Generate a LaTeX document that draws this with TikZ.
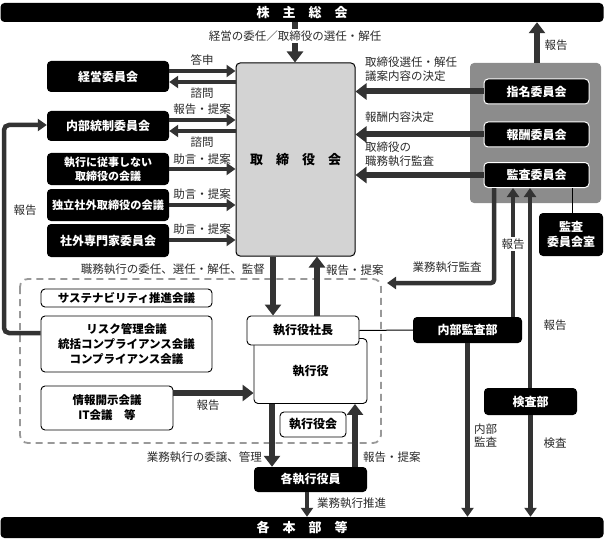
\documentclass[tikz,border=0pt]{standalone}
\usepackage{fontspec}
\setmainfont{Noto Sans CJK JP}
\usetikzlibrary{arrows.meta}
\definecolor{arrc}{HTML}{333333}
\definecolor{boardgray}{HTML}{D3D3D3}
\definecolor{panelgray}{HTML}{8C8C8C}
\definecolor{dashgray}{HTML}{999999}
\definecolor{lblc}{HTML}{2A2A2A}
\begin{document}
\begin{tikzpicture}[x=1pt,y=-1pt,
  blk/.style={fill=black, text=white, rounded corners=4pt, inner sep=0pt, align=center,
    font=\bfseries\fontsize{12}{15}\selectfont},
  wbox/.style={draw=black, line width=0.9pt, fill=white, rounded corners=4pt, inner sep=0pt, align=center,
    font=\bfseries\fontsize{11.5}{15}\selectfont},
  lbl/.style={font=\fontsize{11.5}{14}\selectfont, text=lblc, inner sep=1pt, align=left},
  arr/.style={draw=arrc, line width=4.5pt, -{Triangle[width=12pt,length=9pt]}},
  bigarr/.style={draw=arrc, line width=6pt, -{Triangle[width=16pt,length=11pt]}},
  thinln/.style={draw=black, line width=1pt}
]
\useasboundingbox (0,0) rectangle (604,540);

% dashed executive area
\draw[dashgray, line width=1.8pt, dash pattern=on 7pt off 5pt, rounded corners=8pt] (20,279) rectangle (381,443);

% bars
\node[blk, minimum width=603pt, minimum height=19pt, font=\bfseries\fontsize{13}{15}\selectfont] (top) at (302,12.5) {株　主　総　会};
\node[blk, minimum width=603pt, minimum height=21pt, font=\bfseries\fontsize{13}{15}\selectfont] (bottom) at (302,527.5) {各　本　部　等};

% board
\node[draw=black, line width=1pt, fill=boardgray, rounded corners=4pt, inner sep=0pt,
  minimum width=119pt, minimum height=193pt, font=\bfseries\fontsize{13}{15}\selectfont] (board) at (295.5,159.5) {取　締　役　会};

% left committees
\node[blk, minimum width=122pt, minimum height=31pt] (keiei) at (108,76.5) {経営委員会};
\node[blk, minimum width=122pt, minimum height=30pt] (naibu) at (108,126) {内部統制委員会};
\node[blk, minimum width=122pt, minimum height=32pt, font=\bfseries\fontsize{11}{14}\selectfont] (shikko) at (108,169) {執行に従事しない\\取締役の会議};
\node[blk, minimum width=122pt, minimum height=32pt, font=\bfseries\fontsize{11.2}{14}\selectfont] (dokuritsu) at (108,205) {独立社外取締役の会議};
\node[blk, minimum width=122pt, minimum height=33pt] (shagai) at (108,240.5) {社外専門家委員会};

% right panel
\node[fill=panelgray, rounded corners=4pt, minimum width=131pt, minimum height=140pt, inner sep=0pt] (panel) at (535.5,133) {};
\node[blk, draw=white, line width=1pt, minimum width=105pt, minimum height=25pt] (shimei) at (536.5,91.5) {指名委員会};
\node[blk, draw=white, line width=1pt, minimum width=105pt, minimum height=25pt] (hoshu) at (536.5,134.5) {報酬委員会};
\node[blk, draw=white, line width=1pt, minimum width=105pt, minimum height=25pt] (kansa) at (536.5,175) {監査委員会};
\node[blk, minimum width=64pt, minimum height=43pt] (kansashitsu) at (571,234.5) {監査\\委員会室};
\node[blk, minimum width=109pt, minimum height=26pt] (naibukansa) at (467.5,330) {内部監査部};
\node[blk, minimum width=93pt, minimum height=27pt] (kensa) at (530.5,401.5) {検査部};

% executive area boxes
\node[wbox, minimum width=171pt, minimum height=18pt] (sustain) at (126.5,298) {サステナビリティ推進会議};
\node[wbox, minimum width=171pt, minimum height=56pt] (risk) at (126.5,344) {リスク管理会議\\統括コンプライアンス会議\\コンプライアンス会議};
\node[wbox, minimum width=132pt, minimum height=44pt] (joho) at (107,408) {情報開示会議\\IT会議　等};
\node[wbox, minimum width=113pt, minimum height=65pt, font=\bfseries\fontsize{12}{15}\selectfont] (shikkoyaku) at (310.5,371) {\raisebox{-2pt}{執行役}};
\node[wbox, minimum width=112pt, minimum height=29pt, font=\bfseries\fontsize{12}{15}\selectfont] (president) at (303,330.5) {執行役社長};
\node[wbox, minimum width=66pt, minimum height=25pt, font=\bfseries\fontsize{12}{15}\selectfont] (shikkoyakukai) at (313,424.5) {執行役会};
\node[blk, minimum width=113pt, minimum height=25pt] (kakushikko) at (310.5,479.5) {各執行役員};

% top arrow
\draw[bigarr] (top.south -| 295,0) -- (board.north -| 295,0);
\node[lbl, fill=white, inner sep=2pt] at (295,36) {経営の委任／取締役の選任・解任};

% left committees <-> board
\draw[arr] (keiei.east |- 0,71) -- (board.west |- 0,71);
\node[lbl] at (202,60) {答申};
\draw[arr] (board.west |- 0,82) -- (keiei.east |- 0,82);
\node[lbl] at (202,93) {諮問};
\draw[arr] (naibu.east |- 0,120) -- (board.west |- 0,120);
\node[lbl] at (202,109) {報告・提案};
\draw[arr] (board.west |- 0,131) -- (naibu.east |- 0,131);
\node[lbl] at (202,142) {諮問};
\draw[arr] (shikko.east |- 0,169) -- (board.west |- 0,169);
\node[lbl] at (202,159) {助言・提案};
\draw[arr] (dokuritsu.east |- 0,205) -- (board.west |- 0,205);
\node[lbl] at (202,194) {助言・提案};
\draw[arr] (shagai.east |- 0,240) -- (board.west |- 0,240);
\node[lbl] at (202,229) {助言・提案};

% right committees -> board
\draw[bigarr] (shimei.west) -- (board.east |- shimei.west);
\draw[bigarr] (hoshu.west) -- (board.east |- hoshu.west);
\draw[bigarr] (kansa.west) -- (board.east |- kansa.west);
\node[lbl, anchor=west, font=\fontsize{11.5}{13.5}\selectfont] at (364,69) {取締役選任・解任\\議案内容の決定};
\node[lbl, anchor=west] at (364,117) {報酬内容決定};
\node[lbl, anchor=west, font=\fontsize{11.5}{13.5}\selectfont] at (364,154) {取締役の\\職務執行監査};

% panel -> top
\draw[bigarr] (panel.north -| 537,0) -- (top.south -| 537,0);
\node[lbl] at (556,45) {報告};

% audit committee links
\coordinate (kc) at (494,283);
\draw[arr, rounded corners=3pt] (kansa.south -| 494,0) -- (kc) -- (387,283);
\node[lbl, anchor=south] at (447,274) {業務執行監査};
\draw[arr] (naibukansa.north -| 513,0) -- (kansa.south -| 513,0);
\node[lbl, fill=white, inner sep=2pt] at (513,244) {報告};
\draw[arr] (kensa.north -| 530,0) -- (kansa.south -| 530,0);
\node[lbl] at (555,325) {報告};
\draw[thinln] (kansa.south -| 572,0) -- (kansashitsu.north -| 572,0);
\draw[thinln] (president.east) -- (naibukansa.west);
\draw[arr] (naibukansa.south) -- (bottom.north -| naibukansa.south);
\node[lbl, anchor=west, font=\fontsize{11.5}{13}\selectfont] at (473,436) {内部\\監査};
\draw[arr] (kensa.south) -- (bottom.north -| kensa.south);
\node[lbl] at (555,443) {検査};

% board <-> president
\draw[bigarr] (board.south -| 273,0) -- (president.north -| 273,0);
\node[lbl, anchor=east] at (266,269) {職務執行の委任、選任・解任、監督};
\draw[bigarr] (president.north -| 317,0) -- (board.south -| 317,0);
\node[lbl, anchor=west] at (325,270) {報告・提案};

% joho -> shikkoyaku
\draw[bigarr] (joho.east |- 0,393) -- (shikkoyaku.west |- 0,393);
\node[lbl] at (208,405) {報告};

% shikkoyaku <-> kakushikko
\draw[bigarr] (shikkoyaku.south -| 272,0) -- (kakushikko.north -| 272,0);
\node[lbl, anchor=east] at (263,457) {業務執行の委譲、管理};
\draw[bigarr] (kakushikko.north -| 355,0) -- (shikkoyaku.south -| 355,0);
\node[lbl, anchor=west] at (362,457) {報告・提案};
\draw[arr] (kakushikko.south -| 307,0) -- (bottom.north -| 307,0);
\node[lbl, anchor=west] at (316,503) {業務執行推進};

% left feedback
\coordinate (lb) at (4,333);
\coordinate (lt) at (4,125);
\draw[arr, rounded corners=5pt] (risk.west |- 0,333) -- (lb) -- (lt) -- (naibu.west |- 0,125);
\node[lbl] at (25,210) {報告};
\end{tikzpicture}
\end{document}
